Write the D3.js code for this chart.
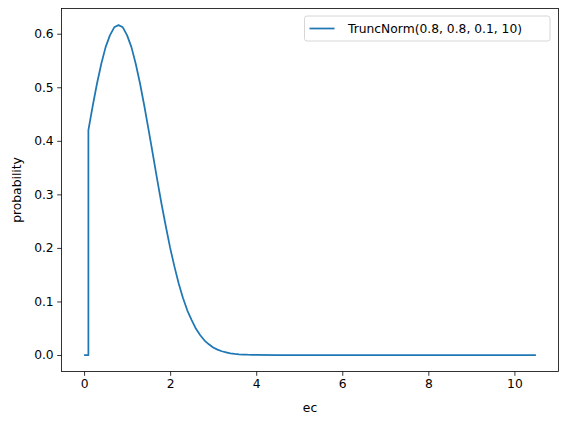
<!DOCTYPE html>
<html>
<head>
<meta charset="utf-8">
<script src="https://cdn.jsdelivr.net/npm/d3@7"></script>
<style>
  body { margin: 0; background: #fff; }
  text { font-family: "DejaVu Sans", sans-serif; }
</style>
</head>
<body>
<div id="chart"></div>
<script>
// Values
const xs = [0, 0.1, 0.1, 0.2, 0.3, 0.4, 0.5, 0.6, 0.7, 0.8, 0.9, 1.0,
    1.1, 1.2, 1.3, 1.4, 1.5, 1.6, 1.7, 1.8, 1.9, 2.0,
    2.1, 2.2, 2.3, 2.4, 2.5, 2.6, 2.7, 2.8, 2.9, 3.0,
    3.1, 3.2, 3.3, 3.4, 3.5, 3.6, 3.7, 3.8, 3.9, 4.0,
    4.5, 5, 6, 7, 8, 9, 10, 10.5];
const probs = [0, 0, 0.420, 0.465, 0.507, 0.544, 0.575, 0.597, 0.612, 0.616, 0.612, 0.597,
    0.575, 0.544, 0.507, 0.465, 0.420, 0.374, 0.327, 0.282, 0.240, 0.200,
    0.165, 0.133, 0.106, 0.083, 0.065, 0.049, 0.037, 0.027, 0.020, 0.014,
    0.010, 0.007, 0.005, 0.003, 0.002, 0.0013, 0.0009, 0.0005, 0.0003, 0.0002,
    0, 0, 0, 0, 0, 0, 0, 0];
const xTicks = [0, 2, 4, 6, 8, 10];
const yTicks = [0.0, 0.1, 0.2, 0.3, 0.4, 0.5, 0.6];
const seriesName = "TruncNorm(0.8, 0.8, 0.1, 10)";

const W = 567, H = 425;
const plotBox = {left: 61.5, right: 558.5, top: 8.5, bottom: 371.5};

const svg = d3.select("#chart").append("svg")
    .attr("width", W).attr("height", H);

const x = d3.scaleLinear().domain([-0.525, 11.025]).range([plotBox.left, plotBox.right]);
const y = d3.scaleLinear().domain([-0.0308, 0.6471]).range([plotBox.bottom, plotBox.top]);

const data = xs.map((v, i) => ({x: v, y: probs[i]}));

// axes
const xAxis = svg.append("g")
    .attr("transform", "translate(0," + plotBox.bottom + ")")
    .call(d3.axisBottom(x).tickValues(xTicks).tickFormat(d3.format("d")).tickSize(4.3).tickPadding(3.5));
const yAxis = svg.append("g")
    .attr("transform", "translate(" + plotBox.left + ",0)")
    .call(d3.axisLeft(y).tickValues(yTicks).tickFormat(d3.format(".1f")).tickSize(4.3).tickPadding(3.5));

[xAxis, yAxis].forEach(g => {
    g.select(".domain").remove();
    g.selectAll("line").attr("stroke", "#000").attr("stroke-width", 0.8);
    g.selectAll("text").attr("fill", "#000")
        .style("font-family", "DejaVu Sans, sans-serif").style("font-size", "12.3px");
});

// frame
svg.append("rect")
    .attr("x", plotBox.left).attr("y", plotBox.top)
    .attr("width", plotBox.right - plotBox.left).attr("height", plotBox.bottom - plotBox.top)
    .attr("fill", "none").attr("stroke", "#000").attr("stroke-width", 0.8);

// line
svg.append("path")
    .datum(data)
    .attr("fill", "none")
    .attr("stroke", "#1f77b4")
    .attr("stroke-width", 1.75)
    .attr("stroke-linejoin", "round")
    .attr("d", d3.line().x(d => x(d.x)).y(d => y(d.y)));

// axis labels
svg.append("text")
    .attr("x", (plotBox.left + plotBox.right) / 2).attr("y", 412)
    .attr("text-anchor", "middle")
    .style("font-size", "12.3px")
    .text("ec");
svg.append("text")
    .attr("transform", "translate(21," + ((plotBox.top + plotBox.bottom) / 2) + ") rotate(-90)")
    .attr("text-anchor", "middle")
    .style("font-size", "12.3px")
    .text("probability");

// legend
const lg = svg.append("g");
lg.append("rect")
    .attr("x", 304.5).attr("y", 16).attr("width", 245.5).attr("height", 25)
    .attr("rx", 2.5)
    .attr("fill", "#fff").attr("fill-opacity", 0.8)
    .attr("stroke", "#ccc").attr("stroke-width", 0.8);
lg.append("line")
    .attr("x1", 309.5).attr("x2", 334.5).attr("y1", 28.5).attr("y2", 28.5)
    .attr("stroke", "#1f77b4").attr("stroke-width", 1.75);
lg.append("text")
    .attr("x", 348).attr("y", 33)
    .style("font-size", "12.3px")
    .text(seriesName);
</script>
</body>
</html>
